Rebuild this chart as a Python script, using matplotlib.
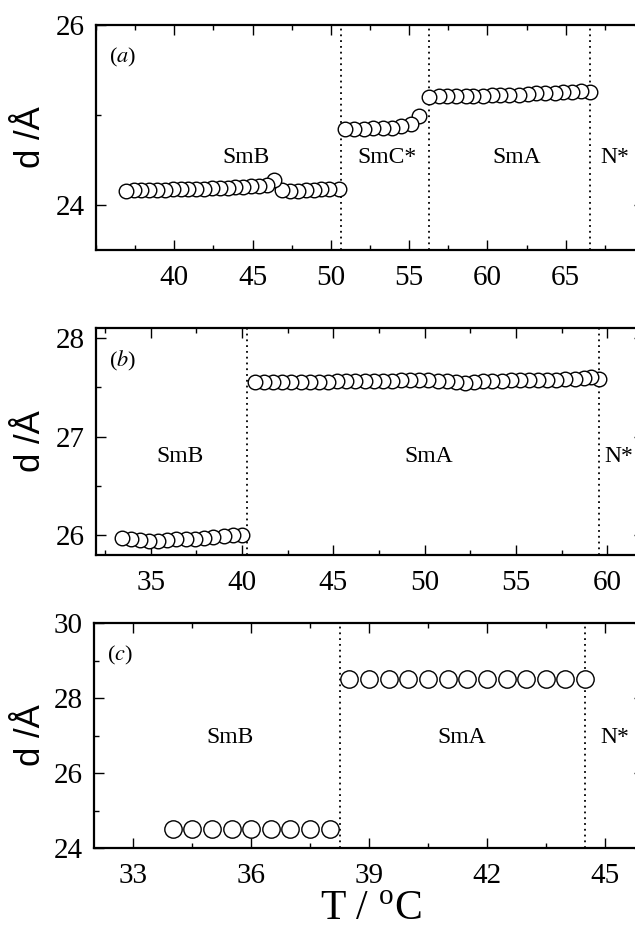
#!/usr/bin/env python3
"""Layer spacing d versus temperature for three samples, panels (a)-(c)."""

import matplotlib
matplotlib.use("Agg")
import matplotlib.pyplot as plt
from matplotlib.ticker import MultipleLocator, FixedLocator

plt.rcParams['font.family'] = ['Liberation Serif', 'DejaVu Serif']
plt.rcParams['mathtext.fontset'] = 'stix'

# ---- panel (a) ----
a_smb_T = [36.9, 37.4, 37.9, 38.4, 38.9, 39.4, 39.9, 40.4, 40.9, 41.4,
           41.9, 42.4, 42.9, 43.4, 43.9, 44.4, 44.9, 45.4, 45.9, 46.4,
           46.9, 47.4, 47.9, 48.4, 48.9, 49.4, 49.9, 50.5]
a_smb_d = [24.16, 24.17, 24.17, 24.17, 24.17, 24.17, 24.18, 24.18, 24.18, 24.18,
           24.18, 24.19, 24.19, 24.19, 24.2, 24.2, 24.21, 24.21, 24.22, 24.28,
           24.17, 24.16, 24.16, 24.17, 24.17, 24.18, 24.18, 24.18]
a_smc_T = [50.9, 51.5, 52.1, 52.7, 53.3, 53.9, 54.5, 55.1, 55.6]
a_smc_d = [24.84, 24.84, 24.85, 24.86, 24.86, 24.86, 24.88, 24.9, 24.99]
a_sma_T = [56.3, 56.9, 57.4, 58.0, 58.6, 59.1, 59.7, 60.3, 60.8, 61.4,
           62.0, 62.6, 63.1, 63.7, 64.3, 64.8, 65.4, 66.0, 66.55]
a_sma_d = [25.2, 25.21, 25.21, 25.21, 25.21, 25.21, 25.21, 25.22, 25.22, 25.22,
           25.22, 25.23, 25.24, 25.25, 25.25, 25.26, 25.26, 25.27, 25.26]
a_transitions = [50.65, 56.3, 66.55]
a_xticks = [40, 45, 50, 55, 60, 65]

# ---- panel (b) ----
b_smb_T = [33.4, 33.9, 34.4, 34.9, 35.4, 35.9, 36.4, 36.9, 37.4, 37.9,
           38.4, 39.0, 39.5, 40.0]
b_smb_d = [25.97, 25.96, 25.95, 25.94, 25.94, 25.95, 25.96, 25.96, 25.96, 25.97,
           25.98, 25.99, 26.0, 26.0]
b_sma_T = [40.7, 41.2, 41.7, 42.2, 42.7, 43.2, 43.7, 44.2, 44.7, 45.2,
           45.7, 46.2, 46.7, 47.2, 47.7, 48.2, 48.7, 49.2, 49.7, 50.2,
           50.7, 51.2, 51.7, 52.2, 52.7, 53.2, 53.7, 54.2, 54.7, 55.2,
           55.7, 56.2, 56.7, 57.2, 57.7, 58.2, 58.7, 59.1, 59.55]
b_sma_d = [27.55, 27.55, 27.55, 27.55, 27.55, 27.55, 27.55, 27.55, 27.55, 27.56,
           27.56, 27.56, 27.56, 27.56, 27.56, 27.56, 27.57, 27.57, 27.57, 27.57,
           27.56, 27.56, 27.55, 27.54, 27.55, 27.56, 27.56, 27.56, 27.57, 27.57,
           27.57, 27.57, 27.57, 27.57, 27.58, 27.58, 27.59, 27.6, 27.58]
b_transitions = [40.26, 59.55]
b_xticks = [35, 40, 45, 50, 55, 60]

# ---- panel (c) ----
c_smb_T = [34.0, 34.5, 35.0, 35.5, 36.0, 36.5, 37.0, 37.5, 38.0]
c_smb_d = [24.5, 24.5, 24.5, 24.5, 24.5, 24.5, 24.5, 24.5, 24.5]
c_sma_T = [38.5, 39.0, 39.5, 40.0, 40.5, 41.0, 41.5, 42.0, 42.5, 43.0,
           43.5, 44.0, 44.5]
c_sma_d = [28.5, 28.5, 28.5, 28.5, 28.5, 28.5, 28.5, 28.5, 28.5, 28.5,
           28.5, 28.5, 28.52]
c_transitions = [38.25, 44.49]
c_xticks = [33, 36, 39, 42, 45]

W, H = 635, 930
fig = plt.figure(figsize=(W / 100, H / 100), dpi=100)


def px_axes(left, top, bottom, right=644):
    """Axes placed by pixel edges (right edge runs past the figure, as in the scan)."""
    return fig.add_axes([left / W, (H - bottom) / H, (right - left) / W, (bottom - top) / H])


def style_axes(ax, xlim, ylim, xticks, xmin, ymaj, ymin):
    ax.set_xlim(*xlim)
    ax.set_ylim(*ylim)
    ax.xaxis.set_major_locator(FixedLocator(xticks))
    ax.xaxis.set_minor_locator(MultipleLocator(xmin))
    ax.yaxis.set_major_locator(MultipleLocator(ymaj))
    ax.yaxis.set_minor_locator(MultipleLocator(ymin))
    ax.tick_params(which='both', direction='in', top=True, right=True, width=1.0)
    ax.tick_params(which='major', length=7, labelsize=21)
    ax.tick_params(axis='x', which='major', pad=11)
    ax.tick_params(axis='y', which='major', pad=8)
    ax.tick_params(which='minor', length=3.5)
    for sp in ax.spines.values():
        sp.set_linewidth(1.6)


def draw_series(ax, T, d, ms):
    # measured on cooling: draw right-to-left so left markers sit on top
    ax.plot(T[::-1], d[::-1], linestyle='none', marker='o', ms=ms,
            mfc='white', mec='black', mew=1.0)


def draw_lines(ax, xs):
    for x in xs:
        ax.axvline(x, color='black', lw=1.3, linestyle=(0, (1, 2.2)), zorder=1)


def ylabel(ax_top, ax_bottom):
    yc = 1 - (ax_top + ax_bottom) / 2 / H
    fig.text(30 / W, yc, 'd /Å', rotation=90, ha='center', va='center',
             fontsize=25, family=['Liberation Sans', 'DejaVu Sans'])


phase_fs = 17
tag_fs = 16

# (a)
ax = px_axes(96, 25, 250)
style_axes(ax, (35, 70), (23.5, 26), a_xticks, 2.5, 2, 1)
draw_lines(ax, a_transitions)
draw_series(ax, a_smb_T, a_smb_d, 10.5)
draw_series(ax, a_smc_T, a_smc_d, 10.5)
draw_series(ax, a_sma_T, a_sma_d, 10.5)
ax.text(0.024, 0.855, r'($\mathit{a}$)', transform=ax.transAxes, fontsize=tag_fs, va='center')
ax.text(44.55, 24.53, 'SmB', fontsize=phase_fs, ha='center', va='center')
ax.text(53.6, 24.53, 'SmC*', fontsize=phase_fs, ha='center', va='center')
ax.text(61.9, 24.53, 'SmA', fontsize=phase_fs, ha='center', va='center')
ax.text(67.2, 24.53, 'N*', fontsize=phase_fs, ha='left', va='center')
ylabel(25, 250)

# (b)
ax = px_axes(96, 328, 555)
style_axes(ax, (32, 62), (25.8, 28.1), b_xticks, 2.5, 1, 0.5)
draw_lines(ax, b_transitions)
draw_series(ax, b_smb_T, b_smb_d, 10.5)
draw_series(ax, b_sma_T, b_sma_d, 10.5)
ax.text(0.024, 0.855, r'($\mathit{b}$)', transform=ax.transAxes, fontsize=tag_fs, va='center')
ax.text(36.6, 26.8, 'SmB', fontsize=phase_fs, ha='center', va='center')
ax.text(50.2, 26.8, 'SmA', fontsize=phase_fs, ha='center', va='center')
ax.text(59.85, 26.8, 'N*', fontsize=phase_fs, ha='left', va='center')
ylabel(328, 555)

# (c)
ax = px_axes(94, 623, 848)
style_axes(ax, (32, 46), (24, 30), c_xticks, 1.5, 2, 1)
draw_lines(ax, c_transitions)
draw_series(ax, c_smb_T, c_smb_d, 12.5)
draw_series(ax, c_sma_T, c_sma_d, 12.5)
ax.text(0.024, 0.855, r'($\mathit{c}$)', transform=ax.transAxes, fontsize=tag_fs, va='center')
ax.text(35.45, 26.94, 'SmB', fontsize=phase_fs, ha='center', va='center')
ax.text(41.35, 26.94, 'SmA', fontsize=phase_fs, ha='center', va='center')
ax.text(44.9, 26.94, 'N*', fontsize=phase_fs, ha='left', va='center')
ylabel(623, 848)

fig.text(371 / W, 10 / H, r'T / $^{\mathregular{o}}$C', fontsize=30,
         ha='center', va='baseline')

fig.savefig('out.png', dpi=100)
